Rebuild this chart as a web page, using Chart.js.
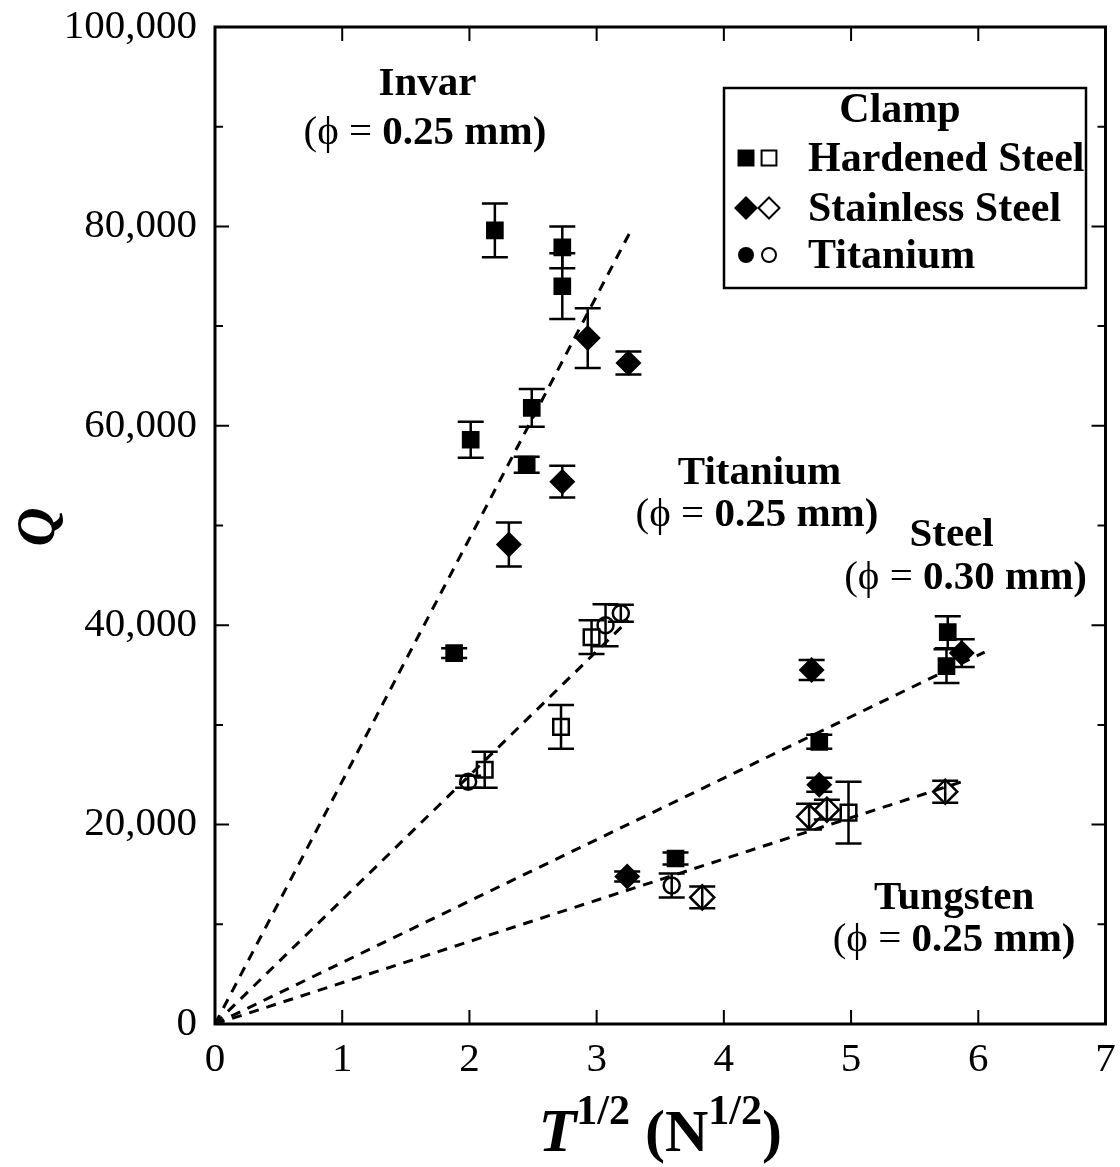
<!DOCTYPE html>
<html>
<head>
<meta charset="utf-8">
<script src="https://cdn.jsdelivr.net/npm/chart.js@4.4.0/dist/chart.umd.min.js"></script>
<style>
  html, body { margin: 0; padding: 0; background: #fff; }
  canvas { display: block; }
</style>
</head>
<body>
<canvas id="chart" width="1120" height="1167"></canvas>
<script>
// valores (x = T^1/2, y = Q)
const filledSquareX = [2.20, 2.73, 2.73, 2.49, 2.01, 2.45, 1.88, 4.75, 3.62, 5.76, 5.75];
const filledSquareY = [79600, 77900, 74000, 61800, 58600, 56100, 37200, 28300, 16600, 39300, 35900];
const filledSquareErr = [2700, 2100, 3300, 1900, 1800, 800, 500, 700, 600, 1600, 1700];

const openSquareX = [2.96, 2.72, 2.12, 4.98];
const openSquareY = [38800, 29800, 25500, 21200];
const openSquareErr = [1700, 2200, 1800, 3100];

const filledDiamondX = [2.93, 3.25, 2.73, 2.31, 4.69, 5.87, 4.75, 3.24];
const filledDiamondY = [68800, 66300, 54400, 48100, 35500, 37200, 24000, 14800];
const filledDiamondErr = [3000, 1150, 1600, 2200, 1000, 1400, 700, 500];

const openDiamondX = [3.83, 4.67, 4.81, 5.74];
const openDiamondY = [12700, 20800, 21500, 23300];
const openDiamondErr = [1100, 1300, 1000, 1100];

const openCircleX = [3.07, 3.19, 3.59, 1.99];
const openCircleY = [40000, 41200, 13900, 24300];
const openCircleErr = [2100, 850, 1200, 600];

// rectas de ajuste desde el origen
const fitNames = ['Invar', 'Titanium', 'Steel', 'Tungsten'];
const fitEndX = [3.27, 3.25, 6.05, 5.92];
const fitEndY = [79600, 40500, 37300, 24500];

// etiquetas dentro del grafico (en coordenadas de datos)
const labelLine1 = ['Invar', 'Titanium', 'Steel', 'Tungsten'];
const labelDiam = ['0.25 mm)', '0.25 mm)', '0.30 mm)', '0.25 mm)'];
const label1X = [1.67, 4.28, 5.79, 5.81];
const label1Y = [94200, 55270, 49050, 12640];
const label2X = [1.65, 4.26, 5.90, 5.81];
const label2Y = [89370, 51050, 44730, 8420];

const xTicks = [0, 1, 2, 3, 4, 5, 6, 7];
const yTicks = [0, 20000, 40000, 60000, 80000, 100000];

const FONT = 'Liberation Serif';

function pts(xs, ys) {
    return xs.map((x, i) => ({ x: x, y: ys[i] }));
}

// dibuja texto en tramos con distinta fuente, centrado en cx
function drawRuns(ctx, runs, cx, cy) {
    let total = 0;
    runs.forEach(r => { ctx.font = r.f + ' "' + FONT + '"'; r.w = ctx.measureText(r.t).width; total += r.w; });
    let x0 = cx - total / 2;
    ctx.textAlign = 'left';
    runs.forEach(r => {
        ctx.font = r.f + ' "' + FONT + '"';
        ctx.fillText(r.t, x0, cy + (r.dy || 0));
        x0 += r.w;
    });
}

// barras de error (debajo de los marcadores)
const errorBars = {
    id: 'errorBars',
    beforeDatasetsDraw(chart) {
        const { ctx, scales: { x, y } } = chart;
        ctx.save();
        ctx.strokeStyle = '#000';
        ctx.lineWidth = 2.5;
        chart.data.datasets.forEach(ds => {
            if (!ds.yErr) return;
            ds.data.forEach((p, i) => {
                const e = ds.yErr[i];
                const px = x.getPixelForValue(p.x);
                const top = y.getPixelForValue(p.y + e);
                const bot = y.getPixelForValue(p.y - e);
                ctx.beginPath();
                ctx.moveTo(px, top); ctx.lineTo(px, bot);
                ctx.moveTo(px - 13, top); ctx.lineTo(px + 13, top);
                ctx.moveTo(px - 13, bot); ctx.lineTo(px + 13, bot);
                ctx.stroke();
            });
        });
        ctx.restore();
    }
};

// marco, ticks interiores, titulos, etiquetas y leyenda
const frame = {
    id: 'frame',
    afterDraw(chart) {
        const { ctx, chartArea: a, scales: { x, y } } = chart;
        ctx.save();
        ctx.strokeStyle = '#000';
        ctx.fillStyle = '#000';

        // ticks hacia dentro en los cuatro lados
        ctx.lineWidth = 2;
        ctx.beginPath();
        xTicks.forEach(v => {
            const px = x.getPixelForValue(v);
            ctx.moveTo(px, a.bottom); ctx.lineTo(px, a.bottom - 14);
            ctx.moveTo(px, a.top); ctx.lineTo(px, a.top + 14);
        });
        for (let v = 0; v <= 100000; v += 10000) {
            const py = y.getPixelForValue(v);
            const len = v % 20000 === 0 ? 14 : 8;
            ctx.moveTo(a.left, py); ctx.lineTo(a.left + len, py);
            ctx.moveTo(a.right, py); ctx.lineTo(a.right - len, py);
        }
        ctx.stroke();

        // marco
        ctx.lineWidth = 3;
        ctx.strokeRect(a.left, a.top, a.right - a.left, a.bottom - a.top);

        // etiquetas de las rectas
        ctx.textBaseline = 'middle';
        labelLine1.forEach((t, i) => {
            drawRuns(ctx, [{ t: t, f: 'bold 41px' }],
                x.getPixelForValue(label1X[i]), y.getPixelForValue(label1Y[i]));
            drawRuns(ctx, [
                { t: '(\u03D5 = ', f: '41px' },
                { t: labelDiam[i], f: 'bold 41px' }
            ], x.getPixelForValue(label2X[i]), y.getPixelForValue(label2Y[i]));
        });

        // leyenda
        const lx = a.left + 509, ly = a.top + 61, lw = 362, lh = 200;
        ctx.fillStyle = '#fff';
        ctx.fillRect(lx, ly, lw, lh);
        ctx.fillStyle = '#000';
        ctx.lineWidth = 2.5;
        ctx.strokeRect(lx, ly, lw, lh);
        ctx.textAlign = 'center';
        ctx.font = 'bold 42px "' + FONT + '"';
        ctx.fillText('Clamp', lx + 176, ly + 23);
        ctx.textAlign = 'left';
        const rows = ['Hardened Steel', 'Stainless Steel', 'Titanium'];
        const styles = ['rect', 'rectRot', 'circle'];
        const rowY = [70, 120, 167];
        rows.forEach((t, i) => {
            const cy = ly + rowY[i];
            const r1 = styles[i] === 'circle' ? 8 : 12;
            const r2 = styles[i] === 'circle' ? 7 : 10.5;
            ctx.fillStyle = '#000';
            Chart.helpers.drawPoint(ctx, { pointStyle: styles[i], radius: r1, borderWidth: 0 }, lx + 22, cy);
            ctx.fillStyle = '#fff';
            ctx.lineWidth = 2;
            Chart.helpers.drawPoint(ctx, { pointStyle: styles[i], radius: r2, borderWidth: 2 }, lx + 45, cy);
            ctx.fillStyle = '#000';
            ctx.fillText(t, lx + 84, cy + 2);
        });

        // titulo eje x: T^1/2 (N^1/2)
        ctx.textBaseline = 'alphabetic';
        drawRuns(ctx, [
            { t: 'T', f: 'italic bold 62px', dy: 0 },
            { t: '1/2', f: 'bold 42px', dy: -27 },
            { t: ' (N', f: 'bold 60px', dy: 0 },
            { t: '1/2', f: 'bold 42px', dy: -27 },
            { t: ')', f: 'bold 60px', dy: 0 }
        ], (a.left + a.right) / 2, a.bottom + 127);

        // titulo eje y: Q
        ctx.translate(40, 527);
        ctx.rotate(-Math.PI / 2);
        ctx.textAlign = 'center';
        ctx.textBaseline = 'middle';
        ctx.font = 'italic bold 54px "' + FONT + '"';
        ctx.fillText('Q', 0, 0);
        ctx.restore();
    }
};

const markerBase = { showLine: false, borderColor: '#000', pointBorderColor: '#000', pointHoverRadius: 0 };

new Chart(document.getElementById('chart'), {
    type: 'scatter',
    data: {
        datasets: [
            Object.assign({}, markerBase, {
                label: 'Hardened Steel (filled)', data: pts(filledSquareX, filledSquareY), yErr: filledSquareErr,
                pointStyle: 'rect', pointRadius: 12.5, pointBackgroundColor: '#000', pointBorderWidth: 0
            }),
            Object.assign({}, markerBase, {
                label: 'Stainless Steel (filled)', data: pts(filledDiamondX, filledDiamondY), yErr: filledDiamondErr,
                pointStyle: 'rectRot', pointRadius: 13, pointBackgroundColor: '#000', pointBorderWidth: 0
            }),
            Object.assign({}, markerBase, {
                label: 'Hardened Steel (open)', data: pts(openSquareX, openSquareY), yErr: openSquareErr,
                pointStyle: 'rect', pointRadius: 11, pointBackgroundColor: 'rgba(0,0,0,0)', pointBorderWidth: 2.5
            }),
            Object.assign({}, markerBase, {
                label: 'Stainless Steel (open)', data: pts(openDiamondX, openDiamondY), yErr: openDiamondErr,
                pointStyle: 'rectRot', pointRadius: 12, pointBackgroundColor: 'rgba(0,0,0,0)', pointBorderWidth: 2.5
            }),
            Object.assign({}, markerBase, {
                label: 'Titanium (open)', data: pts(openCircleX, openCircleY), yErr: openCircleErr,
                pointStyle: 'circle', pointRadius: 8, pointBackgroundColor: 'rgba(0,0,0,0)', pointBorderWidth: 2.5
            })
        ].concat(fitNames.map((n, i) => ({
            label: n + ' fit',
            data: [{ x: 0, y: 0 }, { x: fitEndX[i], y: fitEndY[i] }],
            showLine: true,
            borderColor: '#000',
            borderWidth: 3,
            borderDash: [10, 8],
            pointRadius: 0,
            fill: false
        })))
    },
    options: {
        responsive: false,
        animation: false,
        events: [],
        layout: { padding: { top: 27, right: 13, left: 0, bottom: 0 } },
        plugins: {
            legend: { display: false },
            tooltip: { enabled: false }
        },
        scales: {
            x: {
                type: 'linear',
                min: 0,
                max: 7,
                afterBuildTicks(s) { s.ticks = xTicks.map(v => ({ value: v })); },
                ticks: {
                    color: '#000',
                    padding: 12,
                    maxRotation: 0,
                    font: { family: FONT, size: 41 }
                },
                grid: { display: false, drawTicks: false },
                border: { display: false },
                afterFit(s) { s.height = 143; s.paddingLeft = 0; s.paddingRight = 0; }
            },
            y: {
                min: 0,
                max: 100000,
                afterBuildTicks(s) { s.ticks = yTicks.map(v => ({ value: v })); },
                ticks: {
                    color: '#000',
                    padding: 18,
                    font: { family: FONT, size: 41 },
                    callback: v => v.toLocaleString('en-US')
                },
                grid: { display: false, drawTicks: false },
                border: { display: false },
                afterFit(s) { s.width = 215; s.paddingTop = 0; s.paddingBottom = 0; }
            }
        }
    },
    plugins: [errorBars, frame]
});
</script>
</body>
</html>
